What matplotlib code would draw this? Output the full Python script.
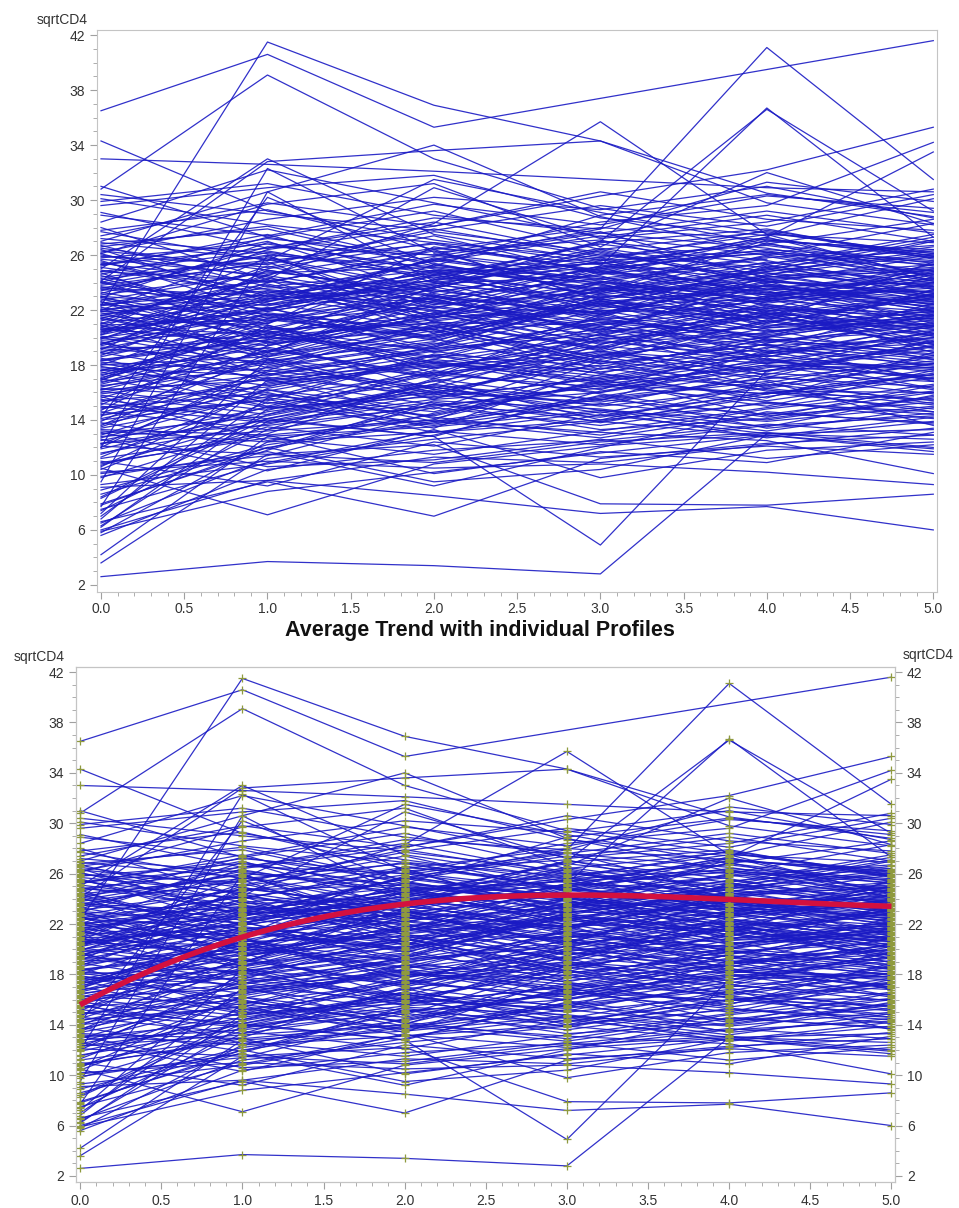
import numpy as np
import matplotlib.pyplot as plt

plt.rcParams['font.family'] = ['Liberation Sans', 'DejaVu Sans']

nan = np.nan
times = [0, 1, 2, 3, 4, 5]

# outlying profiles
outliers = [
    [36.5, 40.6, 35.3, nan, nan, 41.6],
    [22.3, 41.5, 36.9, 34.3, 30.5, 28.8],
    [30.8, 39.1, 33.0, 29.4, 27.6, 26.1],
    [19.5, 22.8, 25.6, 27.9, 41.1, 31.5],
    [17.6, 20.3, 22.4, 25.2, 36.7, 27.3],
    [21.4, 18.9, 23.7, 27.0, 36.6, 29.2],
    [20.2, 24.5, 28.3, 35.7, 27.5, 24.3],
    [34.3, 29.2, 27.1, 25.4, 24.1, 23.0],
    [33.0, 32.6, 32.1, 31.5, 30.9, 30.6],
    [24.1, 32.8, 33.6, 34.3, 29.8, 28.2],
    [22.0, 26.4, 28.1, 30.3, 32.2, 35.3],
    [25.3, 27.2, 26.0, 28.4, 29.6, 34.2],
    [20.4, 22.1, 24.2, 25.1, 27.3, 33.5],
    [2.6, 3.7, 3.4, 2.8, 13.0, nan],
    [15.2, 14.1, 12.8, 4.9, 17.6, 18.1],
    [9.1, 9.6, 8.5, 7.2, 7.7, 6.0],
    [12.1, 11.5, 12.2, 7.9, 7.8, 8.6],
    [10.2, 11.0, 10.5, 10.8, 10.2, 9.3],
    [12.3, 13.2, 14.0, 13.1, 12.5, 10.1],
    [10.5, 7.1, 10.8, 12.1, 13.0, 13.3],
    [6.6, 9.5, 7.0, 11.2, 12.3, 12.9],
]

# upper band profiles
upper = [
    [29.6, 30.9, 31.8, 28.7, 27.4, 30.1],
    [28.4, 32.2, 29.8, 27.3, 28.9, 27.0],
    [27.0, 30.6, 34.0, 28.8, 26.2, 25.5],
    [26.1, 29.7, 31.2, 26.6, 32.0, 28.3],
    [30.1, 28.2, 26.9, 25.8, 23.5, 24.9],
    [29.1, 26.5, 28.7, 27.9, 31.3, 29.9],
    [28.0, 24.2, 30.9, 27.2, 28.4, 30.8],
    [26.8, 27.9, 25.2, 28.9, 30.4, 29.1],
    [31.0, 27.3, 29.2, 26.4, 27.7, 25.8],
    [27.7, 25.6, 31.5, 29.1, 26.8, 28.6],
    [9.5, 30.6, 24.1, 22.3, 25.0, 23.2],
    [12.0, 32.3, 26.2, 27.1, 24.4, 25.3],
    [14.2, 30.2, 25.3, 23.4, 27.1, 26.0],
    [7.7, 26.0, 21.4, 24.1, 22.8, 23.6],
    [25.0, 33.0, 27.5, 25.6, 26.3, 24.8],
    [28.9, 27.4, 29.7, 28.2, 30.3, 29.4],
    [27.4, 29.8, 28.1, 30.6, 28.6, 27.8],
    [30.4, 29.0, 27.8, 29.6, 28.1, 30.4],
    [26.2, 28.6, 30.2, 29.3, 31.0, 28.7],
    [29.9, 31.2, 28.9, 27.6, 29.2, 27.6],
]

# low baseline profiles rising steeply
low_start = [
    [5.8, 12.4, 13.1, 14.0, 15.2, 14.6],
    [6.2, 14.8, 16.0, 15.3, 17.1, 16.4],
    [6.5, 11.2, 12.6, 13.9, 12.8, 14.2],
    [7.0, 15.6, 14.3, 16.8, 15.9, 17.3],
    [7.4, 13.3, 15.1, 14.2, 16.0, 15.5],
    [5.6, 10.4, 11.8, 12.5, 13.7, 12.9],
    [6.8, 16.9, 18.2, 17.0, 18.9, 19.6],
    [7.8, 12.0, 13.8, 15.5, 14.4, 16.0],
    [8.3, 14.1, 16.6, 15.0, 16.3, 18.1],
    [6.0, 9.6, 11.3, 10.9, 12.2, 13.4],
    [4.2, 12.8, 13.5, 14.7, 13.9, 15.0],
    [3.6, 11.5, 10.9, 12.4, 13.1, 12.0],
    [5.9, 8.8, 10.2, 11.6, 12.9, 11.7],
    [7.2, 18.4, 17.2, 19.0, 18.1, 20.2],
    [11.0, 9.2, 12.4, 11.3, 12.1, 11.5],
    [8.6, 12.0, 9.5, 10.4, 12.9, 11.9],
    [13.1, 10.6, 11.1, 12.6, 11.2, 12.2],
    [9.9, 11.7, 9.2, 12.0, 14.6, 13.7],
    [12.6, 10.3, 13.3, 9.8, 11.8, 12.4],
    [10.8, 12.9, 10.1, 11.7, 10.9, 13.1],
]

# main body of profiles
body = [
    [19.2, 21.5, 20.1, 22.8, 21.0, 23.4], [22.5, 24.1, 23.0, 21.7, 25.2, 24.0],
    [16.8, 18.2, 19.9, 17.5, 18.8, 20.3], [24.9, 23.2, 25.6, 24.1, 22.7, 23.9],
    [14.3, 17.1, 15.8, 18.6, 16.9, 15.2], [20.7, 19.4, 22.3, 20.8, 19.6, 21.1],
    [11.9, 14.6, 16.2, 15.1, 17.4, 16.8], [26.3, 25.1, 27.4, 24.6, 25.8, 26.7],
    [18.1, 16.5, 17.9, 19.4, 18.3, 17.0], [23.4, 26.2, 24.7, 23.1, 24.5, 22.9],
    [13.2, 12.4, 14.9, 13.6, 15.3, 14.1], [21.6, 23.9, 21.2, 22.5, 20.4, 22.0],
    [17.4, 20.3, 18.6, 21.4, 19.7, 20.9], [25.5, 22.8, 23.6, 26.1, 24.2, 25.0],
    [9.8, 13.5, 12.1, 14.4, 13.0, 12.6], [20.1, 18.7, 20.9, 18.2, 21.3, 19.5],
    [15.6, 19.1, 17.3, 16.4, 18.0, 17.7], [22.9, 21.0, 25.3, 23.8, 22.1, 24.6],
    [27.8, 29.3, 26.4, 28.0, 27.1, 26.2], [12.7, 15.9, 14.2, 12.9, 14.8, 16.1],
    [18.9, 22.6, 24.8, 21.9, 23.3, 21.5], [21.1, 17.8, 19.5, 22.7, 20.6, 18.4],
    [16.1, 14.7, 17.6, 15.9, 14.2, 16.5], [24.2, 25.9, 22.1, 24.9, 26.4, 25.6],
    [10.6, 16.3, 18.4, 17.2, 15.6, 18.9], [19.8, 20.5, 18.1, 20.2, 22.4, 20.7],
    [23.0, 19.6, 21.8, 19.0, 21.7, 23.1], [14.9, 16.0, 13.4, 17.8, 16.2, 14.6],
    [26.7, 23.7, 24.9, 22.4, 23.8, 21.9], [17.0, 21.8, 20.4, 23.5, 24.7, 22.6],
    [20.4, 24.6, 26.5, 25.3, 23.2, 24.3], [13.8, 11.9, 15.4, 14.8, 13.5, 15.8],
    [22.2, 20.0, 19.2, 21.1, 19.0, 20.0], [18.5, 15.2, 16.8, 18.9, 17.6, 19.1],
    [25.8, 26.8, 25.0, 23.6, 24.9, 27.1], [11.2, 13.0, 16.9, 14.0, 16.6, 15.4],
    [21.9, 22.4, 23.9, 25.7, 22.9, 21.3], [16.4, 18.9, 21.7, 19.6, 20.3, 22.2],
    [19.6, 17.4, 15.6, 17.1, 19.3, 18.2], [24.5, 21.6, 22.8, 20.5, 23.9, 22.4],
    [8.9, 12.2, 13.9, 12.7, 14.5, 13.8], [23.8, 25.4, 27.7, 26.2, 24.0, 25.9],
    [15.1, 20.7, 19.0, 20.4, 21.6, 19.3], [20.9, 21.3, 20.0, 23.2, 25.5, 23.7],
    [17.7, 16.1, 18.3, 16.6, 15.9, 17.4], [22.7, 24.8, 23.4, 22.0, 21.5, 23.0],
    [13.5, 17.6, 16.3, 19.8, 18.4, 16.9], [26.0, 24.4, 21.5, 23.0, 22.6, 24.2],
    [18.3, 19.8, 22.9, 24.3, 21.8, 20.6], [21.3, 20.9, 17.4, 18.7, 20.0, 21.8],
    [12.3, 14.0, 12.8, 16.1, 17.9, 17.2], [24.0, 22.3, 24.2, 27.0, 25.6, 23.5],
    [16.6, 19.6, 20.6, 18.3, 17.1, 19.8], [19.9, 23.4, 21.9, 20.1, 22.9, 24.7],
    [10.1, 11.4, 14.5, 16.7, 15.0, 17.6], [22.1, 18.4, 20.7, 22.1, 23.6, 22.7],
    [25.2, 27.5, 24.0, 25.5, 23.1, 22.5], [14.6, 13.3, 17.0, 15.4, 19.1, 18.0],
    [20.6, 22.0, 25.8, 23.9, 20.9, 21.4], [17.9, 15.8, 14.6, 17.3, 16.4, 18.6],
    [23.6, 23.0, 22.6, 24.6, 26.8, 25.4], [7.9, 11.8, 15.2, 13.3, 14.1, 15.7],
    [21.0, 25.2, 22.5, 21.6, 24.3, 22.1], [15.9, 17.3, 19.3, 22.0, 19.9, 18.8],
    [19.0, 20.0, 23.1, 19.7, 18.6, 20.4], [26.9, 25.7, 23.3, 25.0, 27.3, 24.4],
    [12.9, 16.7, 18.0, 17.7, 20.1, 19.0], [22.4, 21.7, 19.8, 22.3, 21.2, 25.5],
    [18.7, 23.1, 24.4, 22.6, 23.5, 23.3], [14.0, 15.5, 13.1, 14.6, 12.7, 13.9],
    [24.7, 20.6, 21.0, 19.3, 22.0, 21.6], [20.0, 18.0, 20.3, 24.0, 25.9, 24.1],
    [11.5, 15.0, 17.8, 19.0, 17.5, 20.5], [23.2, 26.6, 26.0, 24.4, 22.5, 23.8],
    [16.2, 16.9, 15.1, 16.0, 18.5, 16.3], [21.8, 19.0, 22.0, 20.6, 19.4, 19.9],
    [17.2, 21.1, 23.5, 21.7, 24.1, 21.0], [25.4, 24.0, 26.3, 22.8, 21.4, 22.8],
    [9.3, 10.8, 12.9, 15.8, 13.4, 14.5], [19.4, 22.2, 18.9, 21.0, 23.0, 22.3],
    [13.0, 14.3, 16.5, 15.5, 16.8, 13.6], [22.0, 23.6, 24.1, 26.5, 24.8, 26.3],
    [18.2, 17.6, 21.2, 19.2, 21.9, 20.2], [24.3, 21.4, 23.7, 21.2, 20.2, 21.7],
    [15.3, 18.5, 16.0, 18.4, 20.7, 21.2], [20.8, 20.2, 22.7, 20.9, 22.2, 18.9],
    [6.3, 13.9, 15.5, 16.3, 18.2, 17.8], [27.2, 26.1, 24.5, 26.8, 25.3, 27.5],
    [16.9, 20.8, 17.7, 20.0, 18.9, 21.7], [21.4, 24.3, 22.4, 23.3, 26.0, 24.5],
    [14.4, 15.4, 18.7, 17.4, 15.4, 17.1], [19.3, 19.2, 17.0, 19.9, 20.8, 23.2],
    [23.5, 22.5, 20.6, 23.7, 23.4, 20.8], [12.0, 17.9, 19.6, 18.1, 19.5, 18.4],
    [25.9, 25.3, 27.9, 25.9, 26.7, 25.2], [17.6, 18.3, 19.7, 23.1, 22.0, 19.7],
    [20.3, 23.8, 20.8, 18.6, 21.1, 22.9], [10.9, 12.7, 11.5, 13.2, 14.9, 16.6],
    [22.6, 19.9, 24.6, 22.2, 25.1, 23.6], [15.8, 14.4, 16.6, 20.3, 17.2, 15.9],
    [24.6, 27.0, 23.2, 21.5, 24.6, 26.0], [18.6, 21.2, 22.2, 20.7, 18.1, 19.4],
    [13.6, 18.8, 20.2, 21.3, 22.7, 21.9], [21.7, 22.9, 21.4, 24.8, 23.7, 22.4],
    [16.3, 15.6, 18.8, 17.9, 19.8, 18.5], [23.1, 24.7, 25.1, 23.5, 21.9, 24.0],
    [8.4, 14.4, 17.5, 16.0, 17.8, 19.3], [19.7, 16.8, 18.4, 21.5, 20.5, 21.0],
    [26.4, 22.6, 25.7, 24.2, 25.4, 26.4], [14.8, 17.0, 14.1, 16.9, 18.7, 17.5],
    [20.5, 21.9, 23.8, 22.9, 24.4, 25.1], [17.1, 19.7, 16.2, 18.0, 16.5, 18.1],
    [22.8, 20.4, 21.6, 25.1, 22.3, 20.1], [11.6, 13.7, 15.9, 14.3, 16.0, 14.8],
    [24.8, 26.3, 24.3, 26.9, 27.9, 25.7], [18.0, 18.6, 20.5, 17.7, 19.2, 22.5],
    [21.2, 25.0, 26.9, 24.7, 23.1, 23.4], [15.4, 16.4, 19.4, 22.6, 21.4, 20.6],
    [19.5, 23.3, 22.0, 19.5, 21.7, 19.6], [13.3, 12.9, 14.0, 18.3, 16.1, 16.0],
    [23.3, 21.2, 22.9, 21.8, 24.0, 23.9], [16.7, 20.1, 21.1, 19.1, 22.6, 24.8],
    [25.1, 23.5, 22.2, 24.0, 22.4, 21.2], [10.4, 15.3, 13.7, 15.6, 17.0, 18.3],
    [20.2, 22.7, 24.0, 21.3, 20.1, 21.5], [17.8, 17.2, 19.1, 20.6, 23.8, 22.8],
    [22.3, 24.2, 20.3, 22.4, 19.8, 20.5], [14.1, 16.6, 18.1, 16.8, 18.3, 20.0],
    [26.6, 28.1, 25.5, 27.4, 26.0, 28.3], [18.8, 20.4, 17.8, 19.8, 21.5, 20.1],
    [21.5, 18.9, 23.3, 25.0, 26.2, 24.2], [12.5, 14.9, 15.7, 17.0, 14.3, 15.3],
    [24.4, 25.6, 26.8, 24.8, 23.3, 22.6], [16.0, 18.1, 20.8, 18.5, 20.4, 21.4],
    [20.0, 21.6, 19.3, 22.9, 24.2, 23.1], [15.0, 13.8, 15.3, 13.9, 15.7, 17.3],
    [23.7, 22.0, 24.5, 23.2, 25.0, 26.6], [19.1, 24.9, 23.1, 20.3, 22.1, 21.8],
    [7.5, 10.9, 13.2, 12.2, 13.6, 14.3], [22.0, 23.1, 21.7, 23.9, 21.6, 24.4],
    [17.3, 19.3, 17.1, 21.7, 19.4, 17.9], [25.7, 24.5, 22.7, 25.2, 24.7, 23.7],
    [15.5, 13.9, 16.4, 14.7, 13.2, 14.9], [21.0, 22.8, 25.7, 27.6, 26.5, 24.6],
    [13.9, 19.4, 21.5, 23.6, 20.8, 22.1], [24.1, 20.1, 18.5, 20.0, 21.8, 19.2],
    [17.5, 15.0, 13.6, 15.2, 14.0, 15.6], [19.9, 24.0, 26.4, 22.7, 24.8, 26.1],
    [12.8, 13.6, 15.0, 16.5, 15.3, 14.4], [22.9, 26.9, 24.8, 25.8, 27.5, 26.9],
    [16.5, 17.8, 16.4, 14.5, 16.7, 18.7], [25.6, 21.9, 23.9, 24.5, 21.1, 23.1],
    [14.7, 20.9, 18.2, 16.2, 19.6, 21.6], [20.6, 19.7, 21.5, 21.9, 18.4, 17.8],
    [11.3, 16.2, 14.8, 18.7, 21.2, 19.5], [23.6, 25.5, 21.1, 20.9, 22.8, 25.0],
    [18.0, 22.1, 24.6, 25.4, 27.0, 26.4], [15.7, 12.5, 14.4, 16.6, 18.0, 16.2],
    [21.9, 21.0, 26.6, 24.9, 23.5, 22.0], [26.5, 24.9, 23.0, 21.7, 23.0, 24.7],
    [13.4, 15.7, 17.4, 20.8, 19.0, 17.0], [19.2, 18.2, 15.9, 18.8, 17.3, 19.7],
    [22.4, 23.4, 22.8, 20.4, 24.5, 27.0], [16.9, 21.4, 19.9, 22.8, 25.3, 23.0],
    [24.8, 24.1, 25.9, 27.7, 24.3, 24.9], [10.7, 14.1, 16.1, 13.8, 15.9, 17.7],
    [20.9, 17.3, 19.0, 17.4, 19.9, 18.7], [18.3, 20.5, 23.6, 26.3, 23.9, 22.2],
    [23.0, 22.1, 20.0, 22.5, 20.7, 21.9], [14.5, 18.4, 15.5, 19.5, 22.3, 20.8],
    [25.3, 26.5, 28.4, 26.0, 25.1, 27.3], [17.0, 14.9, 17.3, 19.3, 16.3, 15.1],
    [21.6, 20.7, 23.0, 25.6, 27.8, 25.9], [12.2, 17.5, 19.2, 20.2, 18.6, 20.9],
    [19.6, 21.7, 20.6, 18.1, 19.5, 16.8], [24.0, 27.3, 25.4, 23.3, 26.9, 24.1],
    [16.2, 19.0, 22.6, 21.1, 20.0, 23.5], [22.6, 18.6, 21.8, 23.6, 22.8, 20.3],
    [13.7, 16.2, 13.9, 15.7, 17.6, 19.4], [20.7, 25.8, 23.6, 26.4, 24.1, 23.3],
    [18.9, 17.0, 18.7, 16.7, 18.8, 20.8], [26.1, 23.0, 24.7, 25.4, 26.1, 25.3],
    [nan, 22.4, 24.9, nan, 23.1, 25.3], [18.4, nan, 21.3, 22.6, nan, 20.9],
    [nan, nan, 26.1, 24.7, 27.2, 25.8], [23.9, 26.0, nan, 24.3, 25.7, nan],
    [nan, 19.5, 20.8, 23.4, nan, 24.0],
]

profiles = outliers + upper + low_start + body

# average trend (red curve)
mean_trend = [15.7, 20.6, 23.9, 24.4, 23.7, 23.5]

line_color = '#1a1ac4'
marker_color = '#8f9a3e'

fig = plt.figure(figsize=(9.59, 12.08), dpi=100)
ax1 = fig.add_axes([0.101, 0.510, 0.876, 0.465])
ax2 = fig.add_axes([0.0793, 0.0215, 0.854, 0.4263])


def style(ax, ylim):
    ax.set_xlim(-0.025, 5.022)
    ax.set_ylim(*ylim)
    ax.set_xticks(np.arange(0, 5.01, 0.5))
    ax.set_xticks(np.arange(0, 5.01, 0.1), minor=True)
    ax.set_yticks(range(2, 43, 4))
    ax.set_yticks(range(2, 43, 1), minor=True)
    ax.xaxis.set_major_formatter('{x:.1f}')
    for s in ax.spines.values():
        s.set_color('#c4c4c4')
    ax.tick_params(which='both', colors='#a0a0a0', labelcolor='#333333',
                   labelsize=10, direction='out')
    ax.tick_params(which='major', length=5)
    ax.tick_params(which='minor', length=3)


def draw(ax, markers):
    all_t, all_v = [], []
    for p in profiles:
        t = [x for x, v in zip(times, p) if not np.isnan(v)]
        v = [v for v in p if not np.isnan(v)]
        ax.plot(t, v, color=line_color, lw=0.9, alpha=0.9, zorder=2)
        all_t += t
        all_v += v
    if markers:
        ax.plot(all_t, all_v, ls='none', marker='+', ms=6, mew=0.9,
                color=marker_color, zorder=3)


# top panel
draw(ax1, False)
style(ax1, (1.49, 42.36))
ax1.tick_params(axis='x', pad=2)
fig.text(88 / 959, 1 - 20 / 1208, 'sqrtCD4', ha='right', va='center',
         fontsize=10, color='#333333')

# bottom panel
draw(ax2, True)
coef = np.polyfit(times, mean_trend, 3)
xs = np.linspace(0, 5, 200)
ax2.plot(xs, np.polyval(coef, xs), color='#d3103f', lw=4, zorder=4,
         solid_capstyle='butt')
style(ax2, (1.52, 42.4))
ax2r = ax2.twinx()
style(ax2r, (1.52, 42.4))
ax2r.tick_params(labelleft=False, labelright=True)

fig.text(65 / 959, 1 - 657 / 1208, 'sqrtCD4', ha='right', va='center',
         fontsize=10, color='#333333')
fig.text(903 / 959, 1 - 655 / 1208, 'sqrtCD4', ha='left', va='center',
         fontsize=10, color='#333333')
fig.text(0.5, 1 - 630 / 1208, 'Average Trend with individual Profiles',
         ha='center', va='center', fontsize=15.5, fontweight='bold',
         color='#111111')

fig.savefig('out.png', dpi=100)
